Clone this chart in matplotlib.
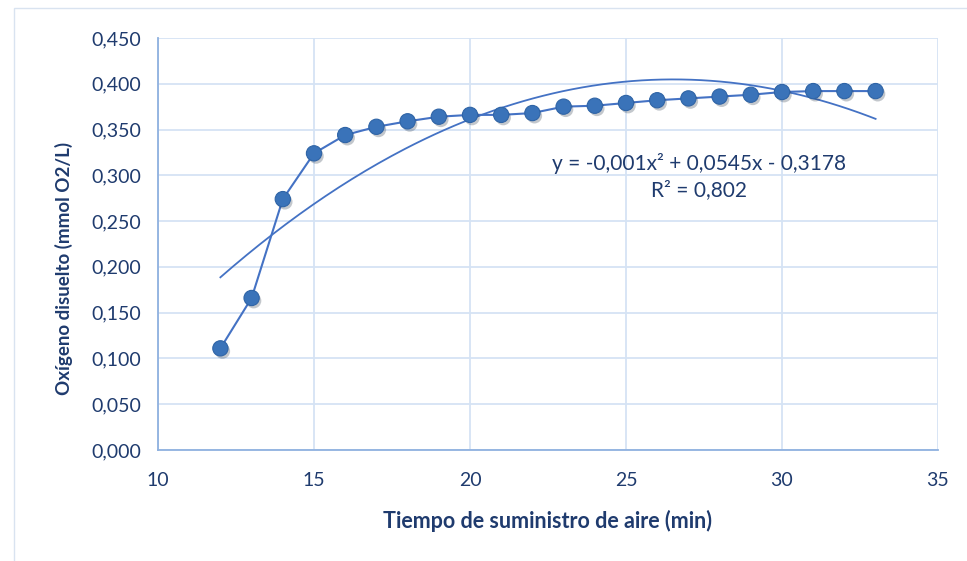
import numpy as np
import matplotlib.pyplot as plt
import matplotlib.patheffects as pe

plt.rcParams['font.family'] = ['Lato', 'DejaVu Sans']

tiempo = [12, 13, 14, 15, 16, 17, 18, 19, 20, 21, 22, 23, 24, 25, 26, 27, 28, 29, 30, 31, 32, 33]
oxigeno = [0.111, 0.166, 0.274, 0.324, 0.344, 0.353, 0.359, 0.364, 0.366, 0.366, 0.368, 0.375,
           0.376, 0.379, 0.382, 0.384, 0.386, 0.388, 0.391, 0.392, 0.392, 0.392]
ecuacion = 'y = -0,001x² + 0,0545x - 0,3178'
r2 = 'R² = 0,802'

text_col = '#1F3B6E'
line_col = '#4472C4'
grid_col = '#D5E3F4'

fig = plt.figure(figsize=(9.67, 5.61), dpi=100)
ax = fig.add_axes([0.1634, 0.1979, 0.8066, 0.7344])

# outer chart frame
fig.patches.append(plt.Rectangle((14 / 967, -0.01), 1.0, 1 - 8 / 561 + 0.01, transform=fig.transFigure,
                                 fill=False, edgecolor='#D9E3F0', linewidth=1))

x = np.array(tiempo)
y = np.array(oxigeno)
coef = np.polyfit(x, y, 2)
xs = np.linspace(x.min(), x.max(), 200)
ax.plot(xs, np.polyval(coef, xs), color=line_col, linewidth=1.3, zorder=3)

ax.plot(x, y, color=line_col, linewidth=1.5, zorder=4)
ax.plot(x, y, linestyle='none', marker='o', markersize=11, markerfacecolor='#3A73B9',
        markeredgecolor='#2F64A6', markeredgewidth=0.8, zorder=5,
        path_effects=[pe.SimplePatchShadow(offset=(1.5, -2), alpha=0.25), pe.Normal()])

ax.text(27.35, 0.313, ecuacion, ha='center', va='center', fontsize=15, color=text_col)
ax.text(27.35, 0.284, r2, ha='center', va='center', fontsize=15, color=text_col)

ax.set_xlim(10, 35)
ax.set_ylim(0, 0.45)
ax.set_xticks(range(10, 36, 5))
ax.set_yticks(np.arange(0, 0.451, 0.05))
ax.set_yticklabels([f'{v:.3f}'.replace('.', ',') for v in np.arange(0, 0.451, 0.05)])
ax.grid(True, color=grid_col, linewidth=1.3)
ax.set_axisbelow(True)
for s in ['top', 'right']:
    ax.spines[s].set_visible(False)
for s in ['left', 'bottom']:
    ax.spines[s].set_color('#8FB1DF')
    ax.spines[s].set_linewidth(1.3)
ax.tick_params(length=0, labelsize=14, labelcolor=text_col, pad=12)
ax.tick_params(axis='x', pad=16)

ax.set_xlabel('Tiempo de suministro de aire (min)', fontsize=15.5, fontweight='bold', color=text_col)
ax.set_ylabel('Oxígeno disuelto (mmol O2/L)', fontsize=13.5, fontweight='bold', color=text_col)
ax.xaxis.set_label_coords(0.5, -0.146)
ax.yaxis.set_label_coords(-0.109, 0.44)

fig.savefig('out.png', dpi=100)
